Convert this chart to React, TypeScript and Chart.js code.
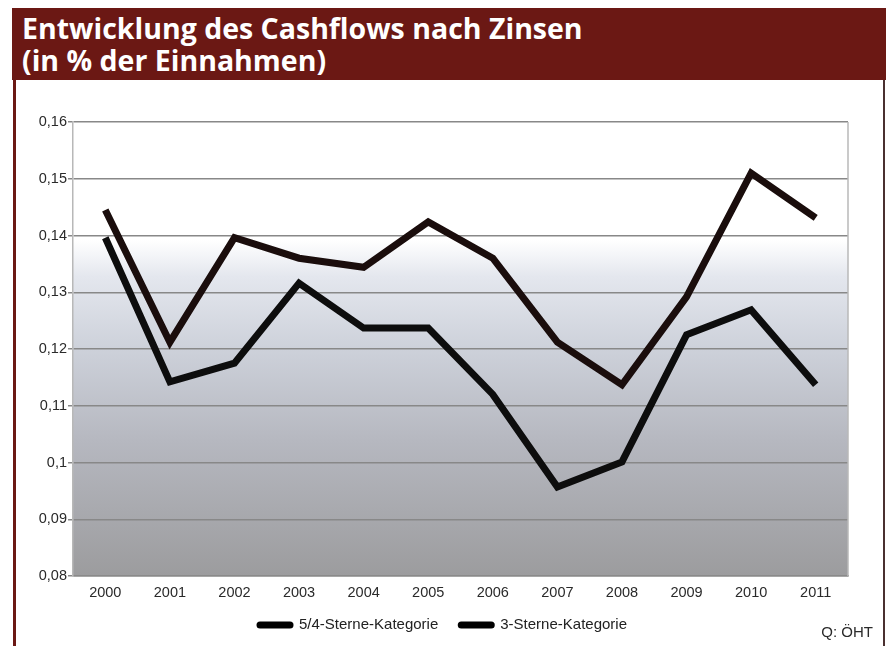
import React, { useEffect, useRef } from "react";
import { Chart, registerables } from "chart.js";

Chart.register(...registerables);

const categories = ["2000", "2001", "2002", "2003", "2004", "2005", "2006", "2007", "2008", "2009", "2010", "2011"];
const seriesNames = ["5/4-Sterne-Kategorie", "3-Sterne-Kategorie"];
const series54 = [0.1445, 0.1212, 0.1396, 0.136, 0.1344, 0.1424, 0.136, 0.1212, 0.1137, 0.1292, 0.151, 0.1431];
const series3 = [0.1396, 0.1142, 0.1175, 0.1316, 0.1237, 0.1237, 0.112, 0.0957, 0.1001, 0.1225, 0.1269, 0.1137];
const yTickValues = [0.08, 0.09, 0.1, 0.11, 0.12, 0.13, 0.14, 0.15, 0.16];
const yTickLabels = ["0,08", "0,09", "0,1", "0,11", "0,12", "0,13", "0,14", "0,15", "0,16"];
const titleLines = ["Entwicklung des Cashflows nach Zinsen", "(in % der Einnahmen)"];
const sourceText = "Q: ÖHT";

const W = 889;
const H = 646;
const MAROON = "#6b1814";
const LINE_COLORS = ["#1a0d0c", "#0d0d0d"];

const bgPlugin = {
  id: "plotBg",
  beforeDraw(chart: any) {
    const { ctx, chartArea } = chart;
    const { left, top, right, bottom } = chartArea;
    const g = ctx.createLinearGradient(0, top, 0, bottom);
    g.addColorStop(0, "#ffffff");
    g.addColorStop(0.26, "#ffffff");
    g.addColorStop(0.34, "#e4e7ee");
    g.addColorStop(0.5, "#cdd1da");
    g.addColorStop(0.7, "#b6b8c0");
    g.addColorStop(1, "#9c9c9e");
    ctx.save();
    ctx.fillStyle = g;
    ctx.fillRect(left, top, right - left, bottom - top);
    ctx.restore();
  },
  afterDraw(chart: any) {
    const { ctx, chartArea } = chart;
    ctx.save();
    ctx.strokeStyle = "#b8b8b8";
    ctx.lineWidth = 1.5;
    ctx.beginPath();
    ctx.moveTo(chartArea.right, chartArea.top);
    ctx.lineTo(chartArea.right, chartArea.bottom);
    ctx.stroke();

    // legend
    ctx.font = "15px 'Liberation Sans', Arial, sans-serif";
    ctx.textBaseline = "middle";
    ctx.fillStyle = "#222";
    const markerW = 36;
    const gap = 6;
    const itemGap = 20;
    const ds = chart.data.datasets;
    const widths = ds.map((d: any) => markerW + gap + ctx.measureText(d.label).width);
    const total = widths.reduce((a: number, b: number) => a + b, 0) + itemGap * (ds.length - 1);
    let x = 442 - total / 2;
    const y = 625;
    ds.forEach((d: any, i: number) => {
      ctx.strokeStyle = "#000";
      ctx.lineWidth = 7;
      ctx.lineCap = "round";
      ctx.beginPath();
      ctx.moveTo(x + 3, y);
      ctx.lineTo(x + markerW - 3, y);
      ctx.stroke();
      ctx.fillStyle = "#222";
      ctx.textAlign = "left";
      ctx.fillText(d.label, x + markerW + gap, y);
      x += widths[i] + itemGap;
    });
    ctx.restore();
  },
};

export default function App() {
  const canvasRef = useRef<HTMLCanvasElement | null>(null);

  useEffect(() => {
    const canvas = canvasRef.current;
    if (!canvas) return;
    const chart = new Chart(canvas, {
      type: "line",
      data: {
        labels: categories,
        datasets: [
          {
            label: seriesNames[0],
            data: series54,
            borderColor: LINE_COLORS[0],
            backgroundColor: LINE_COLORS[0],
            borderWidth: 7,
            pointRadius: 0,
            tension: 0,
            borderJoinStyle: "miter",
          },
          {
            label: seriesNames[1],
            data: series3,
            borderColor: LINE_COLORS[1],
            backgroundColor: LINE_COLORS[1],
            borderWidth: 7,
            pointRadius: 0,
            tension: 0,
            borderJoinStyle: "miter",
          },
        ],
      },
      options: {
        animation: false,
        responsive: false,
        maintainAspectRatio: false,
        devicePixelRatio: 1,
        layout: { padding: { left: 0, right: 41, top: 122, bottom: 0 } },
        plugins: {
          legend: { display: false },
          tooltip: { enabled: false },
        },
        scales: {
          x: {
            type: "category",
            offset: true,
            grid: { display: false, drawTicks: false },
            border: { display: true, color: "#8a8a8a", width: 1.5 },
            ticks: {
              color: "#2a2a2a",
              font: { family: "'Liberation Sans', Arial, sans-serif", size: 14.5 },
              padding: 8,
              maxRotation: 0,
              autoSkip: false,
            },
            afterFit(scale: any) {
              scale.height = 70;
            },
          },
          y: {
            min: 0.08,
            max: 0.16,
            afterBuildTicks(scale: any) {
              scale.ticks = yTickValues.map((v) => ({ value: v }));
            },
            grid: { color: "#888888", lineWidth: 1.5, tickLength: 5, drawTicks: true },
            border: { display: true, color: "#b8b8b8", width: 1.5 },
            ticks: {
              color: "#2a2a2a",
              font: { family: "'Liberation Sans', Arial, sans-serif", size: 14.5 },
              padding: 1,
              callback: (_v: any, i: number) => yTickLabels[i],
            },
            afterFit(scale: any) {
              scale.width = 73;
            },
          },
        },
      },
      plugins: [bgPlugin],
    });
    return () => chart.destroy();
  }, []);

  return (
    <div style={{ position: "fixed", left: 0, top: 0, width: W, height: H, background: "#fff", overflow: "hidden" }}>
      <canvas ref={canvasRef} width={W} height={H} style={{ position: "absolute", left: 0, top: 0, width: W, height: H }} />
      <div
        style={{
          position: "absolute",
          left: 12,
          top: 8,
          width: 874,
          height: 72,
          background: MAROON,
          color: "#fff",
          fontFamily: "'Open Sans', 'DejaVu Sans', sans-serif",
          fontWeight: 700,
          fontSize: 28.5,
          lineHeight: "32px",
          paddingLeft: 10,
          paddingTop: 4,
          boxSizing: "border-box",
          whiteSpace: "nowrap",
        }}
      >
        {titleLines.map((t, i) => (
          <div key={i}>{t}</div>
        ))}
      </div>
      <div style={{ position: "absolute", left: 13, top: 80, width: 3, height: H - 80, background: MAROON }} />
      <div style={{ position: "absolute", left: 883, top: 80, width: 2, height: H - 80, background: "#4a3030" }} />
      <div
        style={{
          position: "absolute",
          right: 16,
          top: 623,
          fontFamily: "'Liberation Sans', Arial, sans-serif",
          fontSize: 15,
          color: "#2a2a2a",
        }}
      >
        {sourceText}
      </div>
    </div>
  );
}
